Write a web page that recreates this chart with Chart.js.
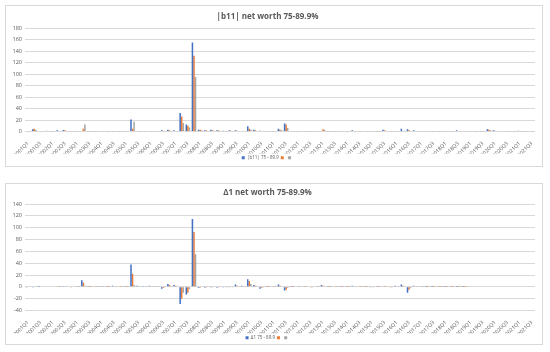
<!DOCTYPE html>
<html><head><meta charset="utf-8">
<script src="https://cdn.jsdelivr.net/npm/chart.js@4"></script>
<style>
html,body{margin:0;padding:0;background:#fff;width:550px;height:352px;overflow:hidden}
.box{position:absolute;left:5px;width:538px;border:1px solid #d9d9d9;box-sizing:border-box}
.cv{position:absolute;left:0;width:550px;height:176px}
</style></head><body>
<div class="box" style="top:5px;height:162px"></div>
<div class="box" style="top:183px;height:162px"></div>
<div class="cv" style="top:0"><canvas id="c1"></canvas></div>
<div class="cv" style="top:176px"><canvas id="c2"></canvas></div>
<script>
const quarters = [
"2001Q1","2001Q2","2001Q3","2001Q4","2002Q1","2002Q2","2002Q3","2002Q4","2003Q1","2003Q2","2003Q3","2003Q4",
"2004Q1","2004Q2","2004Q3","2004Q4","2005Q1","2005Q2","2005Q3","2005Q4","2006Q1","2006Q2","2006Q3","2006Q4",
"2007Q1","2007Q2","2007Q3","2007Q4","2008Q1","2008Q2","2008Q3","2008Q4","2009Q1","2009Q2","2009Q3","2009Q4",
"2010Q1","2010Q2","2010Q3","2010Q4","2011Q1","2011Q2","2011Q3","2011Q4","2012Q1","2012Q2","2012Q3","2012Q4",
"2013Q1","2013Q2","2013Q3","2013Q4","2014Q1","2014Q2","2014Q3","2014Q4","2015Q1","2015Q2","2015Q3","2015Q4",
"2016Q1","2016Q2","2016Q3","2016Q4","2017Q1","2017Q2","2017Q3","2017Q4","2018Q1","2018Q2","2018Q3","2018Q4",
"2019Q1","2019Q2","2019Q3","2019Q4","2020Q1","2020Q2","2020Q3","2020Q4","2021Q1","2021Q2","2021Q3"];

// Chart 1: |b11| net worth 75-89.9%
const b11Blue = [1,4,1,1,0.5,2,2.5,1,0.5,1, 0.5,0.3,1,0.5,0.5,0.5,0.5,21,1,1, 1,1,2,3,2,32,12,155,3,2,
  3,2,1.5,2,2,1,9,3,1.5,1, 0.5,5,14,1,0.5,1,0.5,1,1,0.5, 0.5,0.5,0.5,2,1,1,1,0.5,3,1,
  1,5,4,2,1,0.5,0.5,0.5,0.5,0.5, 2,1,0.5,0.5,0.5,4,2,1,1,1, 1.5,0.5,1];
const b11Orange = [0.5,5,1,1.5,0.5,1,2,0.5,0.5,5, 0.3,0.3,0.5,0.3,0.3,0.3,0.3,5,0.5,0.5, 0.5,0.5,1.5,2,1,26,10,132,3,2,
  2,2,1,1.5,1.5,1,5,2,1,0.5, 0.3,3,12,0.5,0.3,0.5,0.3,0.5,4,0.3, 0.3,0.3,0.3,1,0.5,0.5,0.5,0.3,2,0.5,
  0.5,1,2,1,0.5,0.3,0.3,0.3,0.3,0.3, 1,0.5,0.3,0.3,0.3,3,1.5,1,0.5,0.5, 0.5,0.3,0.5];
const b11Gray = [0.5,3,0.5,1,0.3,1,1,0.5,0.5,12, 0.3,0.3,0.3,0.3,0.3,0.3,0.3,17,0.5,0.5, 0.5,0.5,1,1,0.5,15,7,95,2,1,
  1.5,1,1,1,1,0.5,3,1,0.5,0.5, 0.3,2,6,0.3,0.3,0.3,0.3,0.3,3,0.3, 0.3,0.3,0.3,0.5,0.3,0.3,0.3,0.3,1,0.3,
  0.3,1.5,1,0.5,0.3,0.3,0.3,0.3,0.3,0.3, 0.5,0.3,0.3,0.3,0.3,2,1,0.5,0.5,0.3, 0.3,0.3,0.3];
const yTicks1 = [0,20,40,60,80,100,120,140,160,180];

// Chart 2: Δ1 net worth 75-89.9%
const d1Blue = [-1,-1,0.3,0,0,1,1.5,-0.5,1,11, 0.5,1,1.5,0.5,2,1,0.5,38,2,1.5, 2,1.5,-3,5,3,-29,-13,115,-2,-1.5,
  -1,-1.5,-1,-1,4,2,13,3,-3,0.5, 1,4,-6,0.5,1,1,1,1,3,0.5, 1,0.5,0.5,2,1,0.5,-1,0.5,1,-0.5,
  2,4,-10,2,1,0.3,0.3,0.5,0.3,0.5, 0.3,0.3, null,null,null,null,null,null,null,null,null,null,null];
const d1Orange = [-0.5,-0.5,0,0,0,0.5,1,-0.3,0.5,7, 0.3,0.5,0.5,0.3,1,0.5,0.3,22,1,1, 1,1,-2,3,2,-20,-10,93,-1.5,-1,
  -1,-1,-0.5,-0.5,2,1,10,2,-2,0.3, 0.5,2,-5,0.3,0.5,0.5,-1,0.5,2,0.3, 0.5,0.3,0.3,1,0.5,0.3,-0.5,0.3,0.5,-0.3,
  1,2,-5,1,0.5,0.2,0.2,0.3,0.2,0.3, 0.2,0.2, null,null,null,null,null,null,null,null,null,null,null];
const d1Gray = [0,0,0,0,0,0.3,0.5,0,0.3,2, 0.2,0.3,0.3,0.2,0.5,0.3,0.2,3,0.5,0.5, 0.5,0.5,-1,1,1,-10,-4,55,-0.5,-0.5,
  -0.5,-0.5,-0.3,-0.3,1,0.5,5,1,-1,0.2, 0.3,1,-2,0.2,0.3,0.3,-0.3,0.3,1,0.2, 0.3,0.2,0.2,0.5,0.3,0.2,-0.3,0.2,0.3,-0.2,
  0.5,1,-2,0.5,0.3,0.1,0.1,0.2,0.1,0.2, 0.1,0.1, null,null,null,null,null,null,null,null,null,null,null];
const yTicks2 = [-40,-20,0,20,40,60,80,100,120,140];

const BLUE = '#4472C4', ORANGE = '#ED7D31', GRAY = '#A5A5A5', TXT = '#595959', GRID = '#D9D9D9';
const FAM = "'Open Sans', 'Liberation Sans', sans-serif";

function makeChart(id, title, legendName, blue, orange, gray, ticks, xHeight, padBottom) {
  const ds = (label, data, color) => ({label, data, backgroundColor: color, borderWidth: 0,
    categoryPercentage: 0.75, barPercentage: 1.0});
  return new Chart(document.getElementById(id), {
    type: 'bar',
    data: { labels: quarters, datasets: [ds(legendName, blue, BLUE), ds('', orange, ORANGE), ds('', gray, GRAY)] },
    options: {
      responsive: true, maintainAspectRatio: false, animation: false,
      layout: { padding: { left: 0, right: 15, top: 0, bottom: padBottom } },
      plugins: {
        tooltip: { enabled: false },
        title: { display: true, text: title, color: TXT,
          font: { family: FAM, size: 8, weight: 'bold' }, padding: { top: 12, bottom: 6.5 } },
        legend: { position: 'bottom',
          labels: { boxWidth: 3, boxHeight: 3, padding: 2, color: TXT, font: { family: FAM, size: 4.5 } } }
      },
      scales: {
        x: {
          grid: { display: false }, border: { display: false },
          ticks: { autoSkip: false, maxRotation: 45, minRotation: 45, color: TXT, padding: 1,
            font: { family: FAM, size: 5.2 },
            callback: function(v, i) { return i % 2 === 0 ? this.getLabelForValue(v) : ''; } },
          afterFit: s => { s.height = xHeight; }
        },
        y: {
          min: ticks[0], max: ticks[ticks.length - 1],
          grid: { color: GRID, lineWidth: 1, drawTicks: false }, border: { display: false },
          afterBuildTicks: s => { s.ticks = ticks.map(v => ({ value: v })); },
          ticks: { color: TXT, padding: 3, font: { family: FAM, size: 5.5 } },
          afterFit: s => { s.width = 25; }
        }
      }
    }
  });
}

makeChart('c1', '|b11| net worth 75-89.9%', '|b11| 75 - 89.9', b11Blue, b11Orange, b11Gray, yTicks1, 22, 6);
makeChart('c2', 'Δ1 net worth 75-89.9%', 'Δ1 75 - 89.9', d1Blue, d1Orange, d1Gray, yTicks2, 23, 2);
</script>
</body></html>
